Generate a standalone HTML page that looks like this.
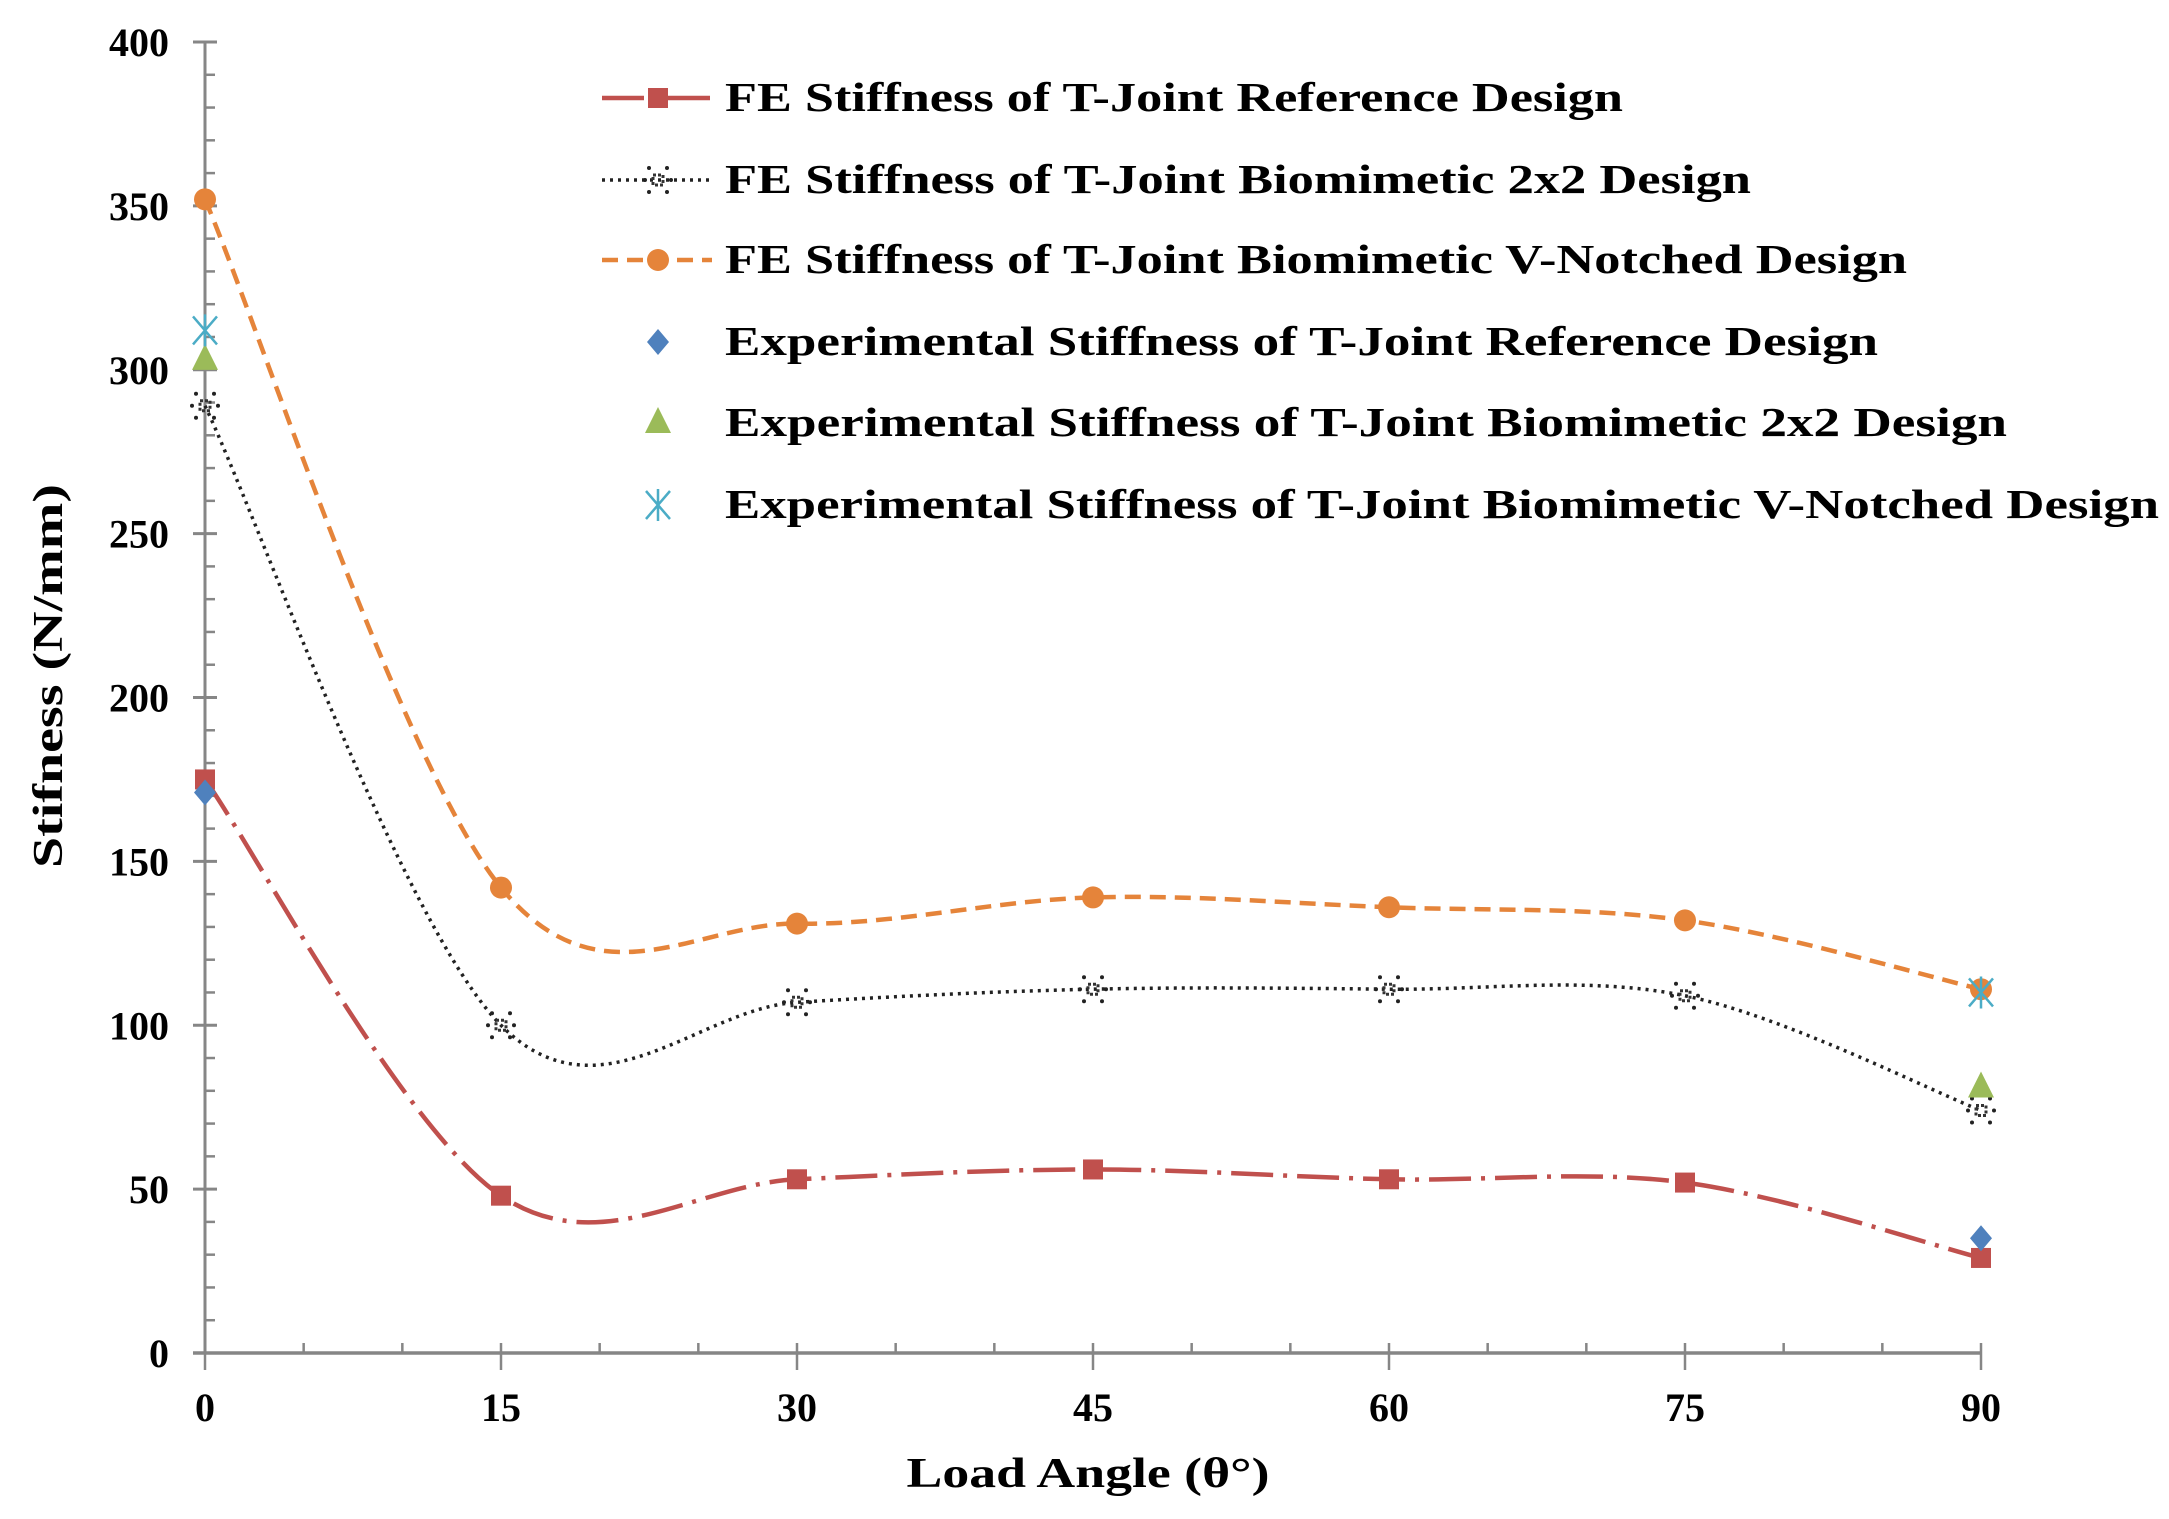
<!DOCTYPE html>
<html><head><meta charset="utf-8"><style>
html,body{margin:0;padding:0;background:#fff;}
svg{display:block;font-family:"Liberation Serif",serif;font-weight:bold;}
</style></head><body>
<svg id="chart" width="2169" height="1519" viewBox="0 0 2169 1519" xmlns="http://www.w3.org/2000/svg">
<g id="axes"></g>
<g id="series"></g>
<g id="legend"></g>
<text x="1088" y="1487" font-size="42" text-anchor="middle" textLength="363" lengthAdjust="spacingAndGlyphs">Load Angle  (θ°)</text>
<text transform="translate(62,676) rotate(-90)" font-size="42" text-anchor="middle" textLength="384" lengthAdjust="spacingAndGlyphs">Stifness  (N/mm)</text>
</svg>
<script>
const angles = [0, 15, 30, 45, 60, 75, 90];
const feReference = [175, 48, 53, 56, 53, 52, 29];
const feBio2x2 = [289, 100, 107, 111, 111, 109, 74];
const feVNotched = [352, 142, 131, 139, 136, 132, 111];
const expAngles = [0, 90];
const expReference = [171, 35];
const expBio2x2 = [303, 81];
const expVNotched = [312, 110];
const yTicks = [0, 50, 100, 150, 200, 250, 300, 350, 400];
const xTicks = [0, 15, 30, 45, 60, 75, 90];
const legendLabels = [
 "FE Stiffness of T-Joint Reference Design",
 "FE Stiffness of T-Joint Biomimetic 2x2 Design",
 "FE Stiffness of T-Joint Biomimetic V-Notched Design",
 "Experimental Stiffness of T-Joint Reference Design",
 "Experimental Stiffness of T-Joint Biomimetic 2x2 Design",
 "Experimental Stiffness of T-Joint Biomimetic V-Notched Design"];

const NS = "http://www.w3.org/2000/svg";
const X0 = 205, X1 = 1981, Y0 = 1353, Y1 = 42;
const xs = v => X0 + (v - 0) / 90 * (X1 - X0);
const ys = v => Y0 - v / 400 * (Y0 - Y1);
function mk(tag, attrs, parent) {
  const e = document.createElementNS(NS, tag);
  for (const k in attrs) e.setAttribute(k, attrs[k]);
  parent.appendChild(e);
  return e;
}
const axes = document.getElementById('axes');
const series = document.getElementById('series');
const legend = document.getElementById('legend');
const AX = "#868686";

let yl = mk('line', {x1: X0, y1: Y1, x2: X0, y2: Y0, stroke: AX, 'stroke-width': 3}, axes);


for (let v = 10; v < 400; v += 10) {
  if (v % 50 === 0) continue;
  mk('line', {x1: X0, y1: ys(v), x2: X0 + 10, y2: ys(v), stroke: AX, 'stroke-width': 2.5}, axes);
}
yTicks.forEach(v => {
  mk('line', {x1: X0 - 12, y1: ys(v), x2: X0 + 12, y2: ys(v), stroke: AX, 'stroke-width': 3}, axes);
  const t = mk('text', {x: 169, y: ys(v) + 14, 'font-size': 40, 'text-anchor': 'end'}, axes);
  t.textContent = v;
  
  
});
let xl = mk('line', {x1: X0 - 12, y1: Y0, x2: X1, y2: Y0, stroke: AX, 'stroke-width': 3.5}, axes);


for (let v = 5; v < 90; v += 5) {
  if (v % 15 === 0) continue;
  mk('line', {x1: xs(v), y1: Y0, x2: xs(v), y2: Y0 - 10, stroke: AX, 'stroke-width': 2.5}, axes);
}
xTicks.forEach(v => {
  mk('line', {x1: xs(v), y1: Y0 - 10, x2: xs(v), y2: Y0 + 17, stroke: AX, 'stroke-width': 2.5}, axes);
  const t = mk('text', {x: xs(v), y: 1421, 'font-size': 40, 'text-anchor': 'middle'}, axes);
  t.textContent = v;
  
  
});

function smooth(px, py) {
  const P = px.map((x, i) => [xs(x), ys(py[i])]);
  let d = `M${P[0][0]},${P[0][1]}`;
  for (let i = 0; i < P.length - 1; i++) {
    const p0 = P[Math.max(0, i - 1)], p1 = P[i], p2 = P[i + 1], p3 = P[Math.min(P.length - 1, i + 2)];
    const c1 = [p1[0] + (p2[0] - p0[0]) / 6, p1[1] + (p2[1] - p0[1]) / 6];
    const c2 = [p2[0] - (p3[0] - p1[0]) / 6, p2[1] - (p3[1] - p1[1]) / 6];
    d += ` C${c1[0]},${c1[1]} ${c2[0]},${c2[1]} ${p2[0]},${p2[1]}`;
  }
  return d;
}
function marker(type, cx, cy, color, parent) {
  let e;
  if (type === 'square') e = mk('rect', {x: cx - 10, y: cy - 10, width: 20, height: 20, fill: color}, parent);
  else if (type === 'circle') e = mk('circle', {cx, cy, r: 11, fill: color}, parent);
  else if (type === 'diamond') e = mk('polygon', {points: `${cx},${cy - 13} ${cx + 11},${cy} ${cx},${cy + 13} ${cx - 11},${cy}`, fill: color}, parent);
  else if (type === 'triangle') e = mk('polygon', {points: `${cx},${cy - 16} ${cx + 13},${cy + 10} ${cx - 13},${cy + 10}`, fill: color}, parent);
  else if (type === 'asterisk') {
    e = mk('path', {d: `M${cx - 12},${cy - 14}L${cx + 12},${cy + 14}M${cx + 12},${cy - 14}L${cx - 12},${cy + 14}M${cx},${cy - 16}L${cx},${cy + 16}`, stroke: color, 'stroke-width': 2.5, fill: 'none'}, parent);
  } else if (type === 'star') {
    e = mk('g', {}, parent);
    mk('rect', {x: cx - 5, y: cy - 5, width: 10, height: 10, fill: 'none', stroke: '#333', 'stroke-width': 3, 'stroke-dasharray': '3 2'}, e);
    [[-9, -12], [9, -12], [-9, 12], [9, 12], [-13, 0], [13, 0]].forEach(o => mk('circle', {cx: cx + o[0], cy: cy + o[1], r: 2, fill: '#222'}, e));
  }
  return e;
}
const seriesDefs = [
  {vals: feReference, color: '#C0504D', dash: '42 10 4 10', w: 4.5, m: 'square', name: 'fe-reference'},
  {vals: feBio2x2, color: '#222', dash: '3 5', w: 3.5, m: 'star', name: 'fe-biomimetic-2x2'},
  {vals: feVNotched, color: '#E5843A', dash: '16 9', w: 4.5, m: 'circle', name: 'fe-v-notched'}];
seriesDefs.forEach(s => {
  const p = mk('path', {d: smooth(angles, s.vals), fill: 'none', stroke: s.color, 'stroke-width': s.w, 'stroke-dasharray': s.dash}, series);
  
  
  s.vals.forEach((v, i) => {
    const mm = marker(s.m, xs(angles[i]), ys(v), s.color, series);
    
    
  });
});
const expDefs = [
  {vals: expReference, color: '#4F81BD', m: 'diamond', name: 'exp-reference'},
  {vals: expBio2x2, color: '#9BBB59', m: 'triangle', name: 'exp-biomimetic-2x2'},
  {vals: expVNotched, color: '#4BACC6', m: 'asterisk', name: 'exp-v-notched'}];
expDefs.forEach(s => {
  s.vals.forEach((v, i) => {
    const mm = marker(s.m, xs(expAngles[i]), ys(v), s.color, series);
    
    
  });
});
const rowY = [98, 180, 260, 342, 423, 505];
const textW = [898, 1026, 1182, 1153, 1282, 1434];
const legDefs = seriesDefs.concat(expDefs);
legDefs.forEach((s, i) => {
  const g = mk('g', {}, legend);
  
  
  const y = rowY[i];
  if (i < 3) mk('line', {x1: 602, y1: y, x2: 712, y2: y, stroke: s.color, 'stroke-width': s.w, 'stroke-dasharray': s.dash}, g);
  marker(s.m, 658, y, s.color, g);
  const t = mk('text', {x: 725, y: y + 13, 'font-size': 41, textLength: textW[i], lengthAdjust: 'spacingAndGlyphs'}, g);
  t.textContent = legendLabels[i];
});
</script>
</body></html>
